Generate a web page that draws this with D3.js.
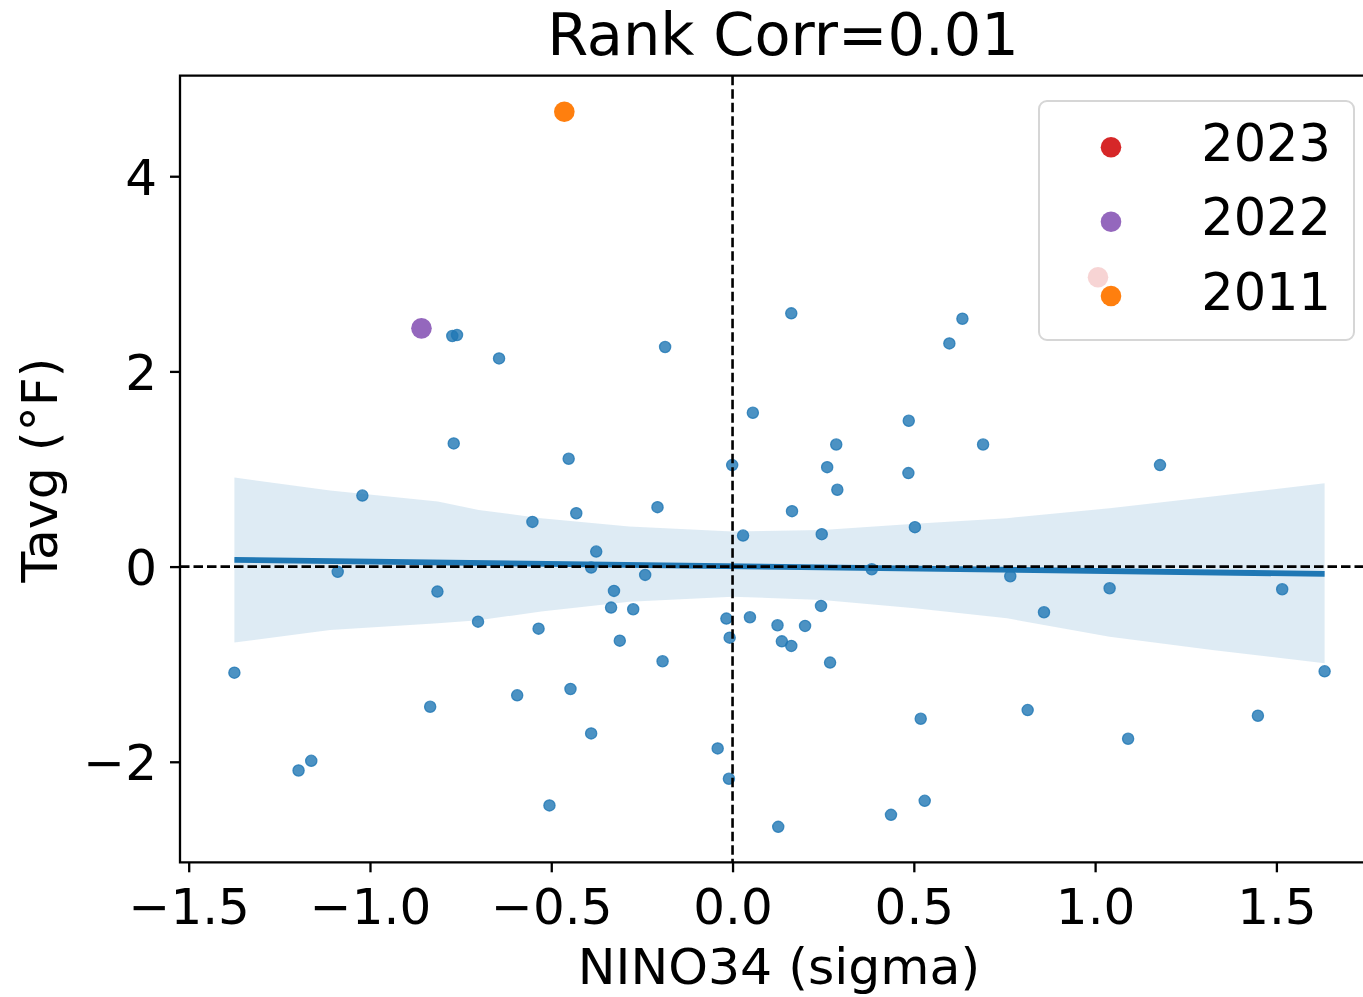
<!DOCTYPE html>
<html>
<head>
<meta charset="utf-8">
<script src="https://cdn.jsdelivr.net/npm/d3@7"></script>
<style>
  html, body { margin: 0; padding: 0; background: #fff; }
  svg { display: block; font-family: "DejaVu Sans", sans-serif; }
</style>
</head>
<body>
<svg id="chart" width="1363" height="997"></svg>
<script>
// ---- data ----
const nino34 = [-0.773, -0.760, -0.644, -0.186, 0.056, -0.769, -0.452, -0.001, 0.162, 0.634,
  0.598, 0.486, 0.286, 0.691, 0.261, 0.485, 1.179, -1.021, -0.552, -0.431,
  -0.207, 0.029, -0.376, -0.390, -1.089, -0.241, -0.814, -0.327, -0.335, -0.274,
  -0.702, -0.535, -0.311, -0.017, 0.048, -0.008, -0.193, -1.374, -0.447, -0.594,
  -0.834, -0.390, -0.041, -0.010, -1.162, -1.197, -0.505, 0.289, 0.164, 0.246,
  0.503, 0.384, 0.766, 1.040, 1.516, 0.859, 0.244, 0.124, 0.200, 0.136,
  0.162, 0.269, 1.633, 0.814, 0.519, 1.449, 1.091, 0.530, 0.437, 0.126];
const tavg = [2.363, 2.373, 2.133, 2.250, 1.576, 1.262, 1.105, 1.040, 2.595, 2.540,
  2.287, 1.494, 1.251, 1.251, 1.019, 0.958, 1.040, 0.728, 0.458, 0.547,
  0.609, 0.318, 0.154, -0.010, -0.054, -0.085, -0.256, -0.249, -0.420, -0.437,
  -0.564, -0.636, -0.759, -0.533, -0.519, -0.728, -0.970, -1.087, -1.254, -1.319,
  -1.436, -1.709, -1.863, -2.174, -1.990, -2.089, -2.447, 0.787, 0.568, 0.332,
  0.404, -0.027, -0.099, -0.222, -0.232, -0.468, -0.403, -0.601, -0.608, -0.766,
  -0.813, -0.984, -1.073, -1.470, -1.559, -1.528, -1.764, -2.400, -2.544, -2.667];

const hlYears = ["2022", "2011"];
const hlX = [-0.858, -0.464];
const hlY = [2.441, 4.66];
const hlColors = ["#9467bd", "#ff7f0e"];

const legendYears = ["2023", "2022", "2011"];
const legendColors = ["#d62728", "#9467bd", "#ff7f0e"];

// regression fit and bootstrap band
const fitX = [-1.374, 1.633];
const fitY = [0.069, -0.075];
const bandX  = [-1.374, -1.110, -0.813, -0.700, -0.528, -0.285, 0.0, 0.248, 0.503, 0.757, 1.040, 1.323, 1.633];
const bandHi = [0.913, 0.780, 0.667, 0.580, 0.496, 0.410, 0.359, 0.376, 0.438, 0.496, 0.599, 0.718, 0.855];
const bandLo = [-0.779, -0.650, -0.580, -0.550, -0.460, -0.359, -0.308, -0.342, -0.427, -0.530, -0.718, -0.854, -0.991];

const xTicks = [-1.5, -1.0, -0.5, 0.0, 0.5, 1.0, 1.5];
const yTicks = [-2, 0, 2, 4];

const titleText = "Rank Corr=0.01";
const xLabel = "NINO34 (sigma)";
const yLabel = "Tavg (°F)";

// ---- layout ----
const svg = d3.select("#chart");
const L = 180, R = 1379, T = 75.7, B = 862.3;
const x = d3.scaleLinear().domain([-1.524, 1.783]).range([L, R]);
const y = d3.scaleLinear().domain([-3.03, 5.03]).range([B, T]);
const FS = 50;

const plot = svg.append("g");

// blue scatter
plot.append("g").selectAll("circle").data(nino34.map((d, i) => [d, tavg[i]]))
  .join("circle")
  .attr("cx", d => x(d[0])).attr("cy", d => y(d[1])).attr("r", 5.6)
  .attr("fill", "#1f77b4").attr("fill-opacity", 0.8)
  .attr("stroke", "#1f77b4").attr("stroke-opacity", 0.8).attr("stroke-width", 1.3);

// confidence band
const area = d3.area().x(d => x(d[0])).y0(d => y(d[2])).y1(d => y(d[1]));
plot.append("path").datum(bandX.map((d, i) => [d, bandHi[i], bandLo[i]]))
  .attr("d", area).attr("fill", "#1f77b4").attr("fill-opacity", 0.15);

// highlighted years
plot.append("g").selectAll("circle").data(hlX.map((d, i) => [d, hlY[i], hlColors[i]]))
  .join("circle")
  .attr("cx", d => x(d[0])).attr("cy", d => y(d[1])).attr("r", 10.3)
  .attr("fill", d => d[2]);

// regression line
plot.append("path").datum(fitX.map((d, i) => [d, fitY[i]]))
  .attr("d", d3.line().x(d => x(d[0])).y(d => y(d[1])))
  .attr("stroke", "#1f77b4").attr("stroke-width", 5.8).attr("fill", "none");

// dashed zero lines
plot.append("line").attr("x1", L).attr("x2", R).attr("y1", y(0)).attr("y2", y(0))
  .attr("stroke", "#000").attr("stroke-width", 2.6).attr("stroke-dasharray", "9.5,4");
plot.append("line").attr("x1", x(0)).attr("x2", x(0)).attr("y1", T).attr("y2", B)
  .attr("stroke", "#000").attr("stroke-width", 2.6).attr("stroke-dasharray", "9.5,4");

// axes
const xAxis = svg.append("g").attr("transform", `translate(0,${B})`)
  .call(d3.axisBottom(x).tickValues(xTicks).tickFormat(d3.format(".1f")).tickSize(10).tickPadding(12));
const yAxis = svg.append("g").attr("transform", `translate(${L},0)`)
  .call(d3.axisLeft(y).tickValues(yTicks).tickFormat(d3.format("d")).tickSize(10).tickPadding(13));
[xAxis, yAxis].forEach(a => {
  a.select(".domain").remove();
  a.selectAll(".tick line").attr("stroke", "#000").attr("stroke-width", 2.3);
  a.selectAll(".tick text").attr("fill", "#000").attr("font-size", FS)
    .attr("font-family", "DejaVu Sans");
});
xAxis.selectAll(".tick text").attr("dy", null).attr("y", 62);
yAxis.selectAll(".tick text").attr("dy", "0.36em");

// spines (left, top, bottom)
svg.append("path").attr("d", `M${R + 5},${T}H${L}V${B}H${R + 5}`)
  .attr("fill", "none").attr("stroke", "#000").attr("stroke-width", 2.3);

// labels
svg.append("text").attr("x", 783).attr("y", 55).attr("text-anchor", "middle")
  .attr("font-size", 59).text(titleText);
svg.append("text").attr("x", 779).attr("y", 984).attr("text-anchor", "middle")
  .attr("font-size", 50.5).text(xLabel);
svg.append("text").attr("transform", "translate(57,470) rotate(-90)")
  .attr("text-anchor", "middle").attr("font-size", 50.5).text(yLabel);

// legend
const lg = svg.append("g");
lg.append("rect").attr("x", 1039).attr("y", 101).attr("width", 315).attr("height", 239)
  .attr("rx", 8).attr("fill", "#fff").attr("fill-opacity", 0.8)
  .attr("stroke", "#d6d6d6").attr("stroke-width", 2);
const rowY = [147.3, 221.7, 296];
// faded 2023 handle drawn behind 2011 row (as in the reference)
lg.append("circle").attr("cx", 1098).attr("cy", rowY[2] - 18.7).attr("r", 10.3)
  .attr("fill", legendColors[0]).attr("fill-opacity", 0.2);
legendYears.forEach((yr, i) => {
  lg.append("circle").attr("cx", 1111).attr("cy", rowY[i]).attr("r", 10.3).attr("fill", legendColors[i]);
  lg.append("text").attr("x", 1331).attr("y", rowY[i] + 13.5).attr("text-anchor", "end")
    .attr("font-size", 51).text(yr);
});
</script>
</body>
</html>
